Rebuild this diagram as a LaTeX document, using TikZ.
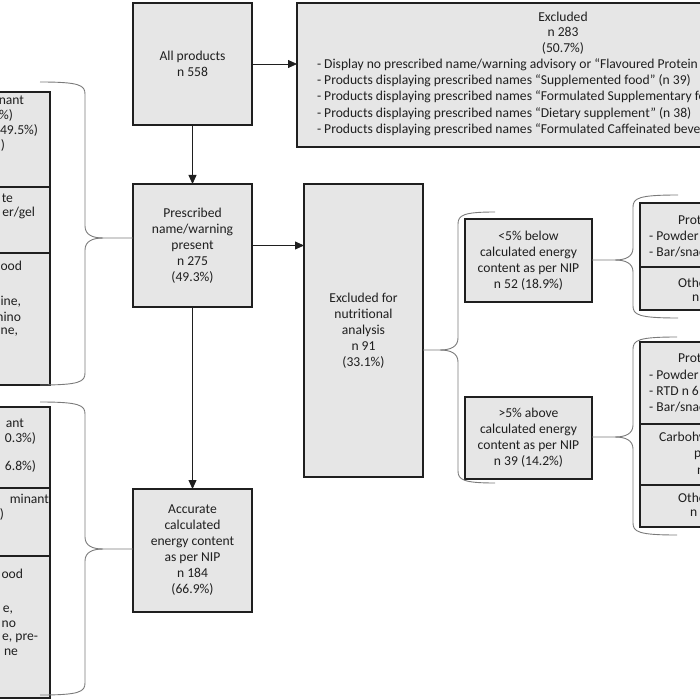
\documentclass[tikz,border=0pt]{standalone}
\usepackage{fontspec}
\setmainfont{Carlito}
\usetikzlibrary{arrows.meta,calc}
\definecolor{boxfill}{HTML}{E6E6E6}
\definecolor{boxline}{HTML}{1F1F1F}
\definecolor{txtc}{HTML}{1F1F1F}
\definecolor{bracec}{HTML}{7A7A7A}
% brace: tip x, tip y, spine x, top y, bottom y, end x, direction (1 = tip left, -1 = tip right)
\newcommand\GroupBrace[7]{%
  \draw[brc] (#6,#4) .. controls ({#3+6*#7},#4) and (#3,#4+3) .. (#3,#4+12) -- (#3,#2-12)
     .. controls (#3,#2-3) and ({#3-8*#7},#2) .. ({#3-18*#7},#2) -- (#1,#2);
  \draw[brc] ({#3-18*#7},#2) .. controls ({#3-8*#7},#2) and (#3,#2+3) .. (#3,#2+12) -- (#3,#5-12)
     .. controls (#3,#5-3) and ({#3+6*#7},#5) .. (#6,#5);}
\begin{document}
\begin{tikzpicture}[x=1pt,y=-1pt,
  every node/.style={text=txtc, inner sep=0pt, outer sep=0pt},
  boxn/.style={draw=boxline, fill=boxfill, line width=1.6pt, align=center, font=\fontsize{13.6}{16}\selectfont},
  sect/.style={draw=boxline, fill=boxfill, line width=1.6pt},
  txt/.style={font=\fontsize{13.6}{15.5}\selectfont, align=center},
  ltxt/.style={font=\fontsize{13.6}{16.3}\selectfont, align=left, anchor=west},
  frag/.style={font=\fontsize{13.6}{16}\selectfont, anchor=east},
  arr/.style={draw=boxline, line width=0.8pt, -{Triangle[length=9pt,width=8pt]}},
  brc/.style={draw=bracec, line width=0.9pt},
]
\useasboundingbox (0,0) rectangle (700,700);
\clip (0,0) rectangle (700,700);

% ---- main column
\node[boxn, minimum width=119pt, minimum height=122pt] (all) at (192.5,64) {All products\\n 558};
\node[boxn, minimum width=119pt, minimum height=123pt] (pres) at (192.5,245.5) {Prescribed\\name/warning\\present\\n 275\\(49.3\%)};
\node[boxn, minimum width=119pt, minimum height=123pt] (acc) at (192.5,550.5) {Accurate\\calculated\\energy content\\as per NIP\\n 184\\(66.9\%)};

% ---- excluded box
\node[sect, minimum width=532pt, minimum height=144pt] (excl) at (563,75) {};
\node[txt] (exclhead) at (563,33) {Excluded\\n 283\\(50.7\%)};
\node[ltxt] (excllist) at (317,97) {- Display no prescribed name/warning advisory or “Flavoured Protein Powder”\\
- Products displaying prescribed names “Supplemented food” (n 39)\\
- Products displaying prescribed names “Formulated Supplementary food”\\
- Products displaying prescribed names “Dietary supplement” (n 38)\\
- Products displaying prescribed names “Formulated Caffeinated beverage”};

% ---- nutritional analysis
\node[boxn, minimum width=119pt, minimum height=293pt] (nutr) at (363.5,330.5) {Excluded for\\nutritional\\analysis\\n 91\\(33.1\%)};
\node[boxn, minimum width=127pt, minimum height=83pt] (below) at (528.5,260.5) {<5\% below\\calculated energy\\content as per NIP\\n 52 (18.9\%)};
\node[boxn, minimum width=127pt, minimum height=82pt] (above) at (528.5,438) {>5\% above\\calculated energy\\content as per NIP\\n 39 (14.2\%)};

% ---- right-hand category boxes (cut by the frame)
\node[sect, minimum width=130pt, minimum height=64pt] (r1a) at (705,235) {};
\node[sect, minimum width=130pt, minimum height=43pt] (r1b) at (705,288.5) {};
\node[sect, minimum width=130pt, minimum height=82pt] (r2a) at (705,383) {};
\node[sect, minimum width=130pt, minimum height=61pt] (r2b) at (705,454.5) {};
\node[sect, minimum width=130pt, minimum height=42pt] (r2c) at (705,506) {};
\begin{scope}[every node/.style={text=txtc, inner sep=0pt, font=\fontsize{13.6}{16}\selectfont, anchor=west}]
\node (r1t1) at (678,220) {Protein};
\node (r1t2) at (649,236) {- Powder};
\node (r1t3) at (649,252) {- Bar/snack};
\node (r1t4) at (678,283) {Other};
\node (r1t5) at (692,298) {n};
\node (r2t1) at (678,358) {Protein};
\node (r2t2) at (649,375) {- Powder};
\node (r2t3) at (649,391) {- RTD n 6};
\node (r2t4) at (649,407) {- Bar/snack};
\node (r2t5) at (659,438) {Carbohydrate};
\node (r2t6) at (694,455) {p};
\node (r2t7) at (697,471) {n};
\node (r2t8) at (678,498) {Other};
\node (r2t9) at (690,513) {n};
\end{scope}

% ---- left-hand category boxes (cut by the frame)
\node[sect, minimum width=120pt, minimum height=95pt] (lu1) at (-10,139.5) {};
\node[sect, minimum width=120pt, minimum height=66pt] (lu2) at (-10,220) {};
\node[sect, minimum width=120pt, minimum height=132pt] (lu3) at (-10,319) {};
\node[sect, minimum width=120pt, minimum height=81pt] (ll1) at (-10,447.5) {};
\node[sect, minimum width=120pt, minimum height=68pt] (ll2) at (-10,522) {};
\node[sect, minimum width=120pt, minimum height=142pt] (ll3) at (-10,627) {};
\node[frag] (f1) at (24,100) {nant};
\node[frag] (f2) at (13,115) {\%)};
\node[frag] (f3) at (38,130) {49.5\%)};
\node[frag] (f4) at (5,145) {)};
\node[frag] (f5) at (13,198) {te};
\node[frag] (f6) at (35,213) {er/gel};
\node[frag] (f7) at (22,266) {ood};
\node[frag] (f8) at (21,302) {ine,};
\node[frag] (f9) at (21,317) {nino};
\node[frag] (f10) at (18,332) {ne,};
\node[frag] (g1) at (24,423) {ant};
\node[frag] (g2) at (36,438) {0.3\%)};
\node[frag] (g3) at (36,466) {6.8\%)};
\node[frag] (g4) at (49,499) {minant};
\node[frag] (g5) at (4,514) {)};
\node[frag] (g6) at (23,574) {ood};
\node[frag] (g7) at (13,610) {e,};
\node[frag] (g8) at (16,624) {no};
\node[frag] (g9) at (38,638) {e, pre-};
\node[frag] (g10) at (18,652) {ne};

% ---- arrows
\draw[arr] (all.east) -- (all.east -| excl.west);
\draw[arr] (all.south) -- (pres.north);
\draw[arr] (pres.east) -- (pres.east -| nutr.west);
\draw[arr] (pres.south) -- (acc.north);

% ---- braces
\GroupBrace{423}{350}{458}{212}{483}{495}{1}
\GroupBrace{592}{260}{633}{195}{318}{678}{1}
\GroupBrace{592}{437}{633}{337}{535}{677}{1}
\GroupBrace{133}{238}{85}{82}{385}{40}{(-1)}
\GroupBrace{133}{549}{85}{402}{695}{40}{(-1)}
\end{tikzpicture}
\end{document}
